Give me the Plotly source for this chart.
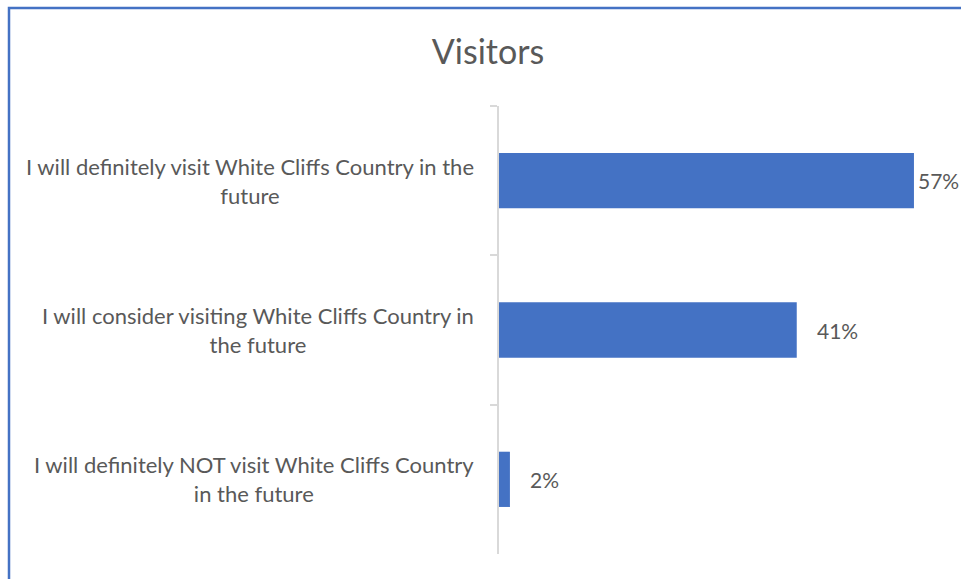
import plotly.graph_objects as go

categories = [
    "I will definitely visit White Cliffs Country in the<br>future",
    "I will consider visiting White Cliffs Country in<br>the future",
    "I will definitely NOT visit White Cliffs Country<br>in the future",
]
values = [57.0, 40.9, 1.5]
value_labels = ["57%", "41%", "2%"]
label_shift = [2, 18, 18]

W, H = 961, 579
ML, MR, MT, MB = 499, 26, 106, 25
PW = W - ML - MR
PH = H - MT - MB

def px_x(p):
    return (p - ML) / PW

def px_y(p):
    return (H - MB - p) / PH

FONT = "Lato"
TXT = "#595959"
BLUE = "#4472C4"

fig = go.Figure()
fig.add_trace(go.Bar(
    y=categories, x=values, orientation="h",
    marker=dict(color=BLUE, line=dict(width=0)),
    width=0.37, hoverinfo="skip",
))

ann = []
for c in categories:
    ann.append(dict(x=px_x(476), xref="paper", y=c, yref="y", text=c,
                    showarrow=False, xanchor="right", yanchor="middle", align="center",
                    font=dict(family=FONT, size=22, color=TXT)))
for c, v, t, s in zip(categories, values, value_labels, label_shift):
    ann.append(dict(x=v, xref="x", y=c, yref="y", text=t, showarrow=False,
                    xanchor="left", yanchor="middle", xshift=s,
                    font=dict(family=FONT, size=21, color=TXT)))

fig.update_layout(
    width=W, height=H,
    margin=dict(l=ML, r=MR, t=MT, b=MB),
    paper_bgcolor="white", plot_bgcolor="white",
    showlegend=False,
    title=dict(text="Visitors", x=488 / W, xref="container", xanchor="center",
               y=1 - 52 / H, yref="container", yanchor="middle",
               font=dict(family=FONT, size=34, color=TXT)),
    xaxis=dict(range=[0, PW / 7.28], visible=False, fixedrange=True),
    yaxis=dict(autorange="reversed", showticklabels=False, showline=True,
               linecolor="#D9D9D9", linewidth=1.5, ticks="outside", tickson="boundaries",
               ticklen=7, tickcolor="#D9D9D9", tickwidth=1.5, showgrid=False,
               zeroline=False, fixedrange=True),
    annotations=ann,
    shapes=[dict(type="rect", xref="paper", yref="paper",
                 x0=px_x(9), x1=px_x(975), y0=px_y(8), y1=px_y(595),
                 line=dict(color=BLUE, width=2.5), layer="above")],
)

fig.write_html("out.html")
